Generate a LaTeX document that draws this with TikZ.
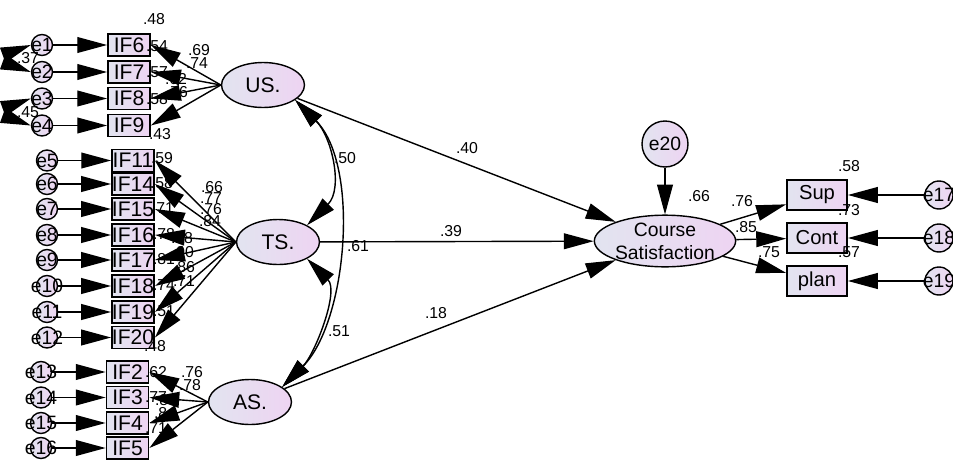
\documentclass[tikz,border=0pt]{standalone}
\usepackage{fontspec}
\setmainfont{Liberation Sans}
\usetikzlibrary{arrows.meta,shapes.geometric}

\definecolor{lavL}{RGB}{226,228,240}
\definecolor{lavR}{RGB}{238,212,242}

\begin{document}
\begin{tikzpicture}[x=0.02cm,y=-0.02cm,
  obs/.style={draw,line width=1pt,rectangle,left color=lavL,right color=lavR,
    minimum width=0.84cm,minimum height=0.44cm,inner sep=0pt,font=\fontsize{12}{12}\selectfont},
  err/.style={draw,line width=0.8pt,circle,left color=lavL,right color=lavR,
    minimum size=0.42cm,inner sep=0pt,font=\fontsize{11}{12}\selectfont},
  lat/.style={draw,line width=0.8pt,ellipse,left color=lavL,right color=lavR,
    minimum width=1.66cm,minimum height=0.9cm,inner sep=0pt,font=\fontsize{12}{13}\selectfont},
  coef/.style={font=\fontsize{9}{10}\selectfont,inner sep=0pt},
  regr/.style={line width=0.8pt,-{Triangle[length=17pt,width=9pt]}},
  cov/.style={line width=0.8pt,{Triangle[length=17pt,width=9pt]}-{Triangle[length=17pt,width=9pt]}}]
\useasboundingbox (0,0) rectangle (953,460);

% indicators and their errors
\foreach \i/\v/\y in {1/6/45,2/7/72,3/8/98.5,4/9/125.5} {
  \node[err] (e\i) at (42,\y) {\makebox[0pt]{e\i}};
  \node[obs] (IF\v) at (129,\y) {IF\v};
}
\foreach \i/\v/\y in {5/11/160.5,6/14/184,7/15/209,8/16/235,9/17/260,10/18/286,11/19/312,12/20/337.5} {
  \node[err] (e\i) at (47,\y) {\makebox[0pt]{e\i}};
  \node[obs] (IF\v) at (133,\y) {IF\v};
}
\foreach \i/\v/\y in {13/2/372,14/3/397.5,15/4/423,16/5/448} {
  \node[err] (e\i) at (41,\y) {\makebox[0pt]{e\i}};
  \node[obs] (IF\v) at (127.5,\y) {IF\v};
}

% latent variables
\node[lat] (US) at (263,85) {US.};
\node[lat] (TS) at (278,242) {TS.};
\node[lat] (AS) at (250,402) {AS.};
\node[lat,minimum width=2.4cm,minimum height=0.96cm,align=center,
  font=\fontsize{11}{13}\selectfont] (CS) at (665,241) {Course\\Satisfaction};
\node[err,minimum size=0.92cm] (e20) at (665,144) {e20};

% outcome indicators
\foreach \i/\o/\y in {17/Sup/195,18/Cont/238,19/plan/281} {
  \node[obs,minimum width=1.2cm,minimum height=0.6cm,font=\fontsize{11.5}{12}\selectfont] (\o) at (817,\y) {\o};
  \node[err,minimum size=0.56cm] (e\i) at (939,\y) {\makebox[0pt]{e\i}};
}

% estimates
\foreach \n/\p/\t in {u1/{154,19}/.48,u2/{157,46}/.54,u3/{157,72}/.57,u4/{157,99}/.58,u5/{160,134}/.43,
    ul1/{199,50}/.69,ul2/{197,63}/.74,ul3/{176,79}/.62,ul4/{177,92}/.76,
    t1/{162,158}/.59,t2/{162,183}/.58,t3/{163,208}/.71,t4/{164,234}/.78,
    t5/{164,259}/.81,t6/{164,285}/.74,t7/{164,311}/.51,t8/{155,346}/.48,
    tl1/{212,187}/.66,tl2/{211,198}/.77,tl3/{211,209}/.76,tl4/{210,221}/.84,
    tl5/{182,238}/.88,tl6/{183,252}/.90,tl7/{184,267}/.86,tl8/{184,281}/.71,
    a1/{156,372}/.62,a2/{156,397}/.77,a3/{156,428}/.71,
    al1/{192,372}/.76,al2/{190,385}/.78,al3/{166,400}/.88,al4/{165,413}/.84,
    c1/{849,166}/.58,c2/{849,210}/.73,c3/{849,252}/.57,
    cl1/{742,201}/.76,cl2/{746,227}/.85,cl3/{769,252}/.75,r2/{699,196}/.66,
    b1/{467,148}/.40,b2/{451,231}/.39,b3/{436,313}/.18,
    k1/{345,158}/.50,k2/{339,331}/.51,k3/{358,246}/.61,
    k4/{28,58}/.37,k5/{28,112}/.45}
  \node[coef] (\n) at (\p) {\t};

% paths
\foreach \i/\v in {1/6,2/7,3/8,4/9,5/11,6/14,7/15,8/16,9/17,10/18,11/19,12/20,13/2,14/3,15/4,16/5}
  \draw[regr] (e\i) -- (IF\v);
\foreach \v in {6,7,8,9} \draw[regr] (US.west) -- (IF\v.east);
\foreach \v in {11,14,15,16,17,18,19,20} \draw[regr] (TS.west) -- (IF\v.east);
\foreach \v in {2,3,4,5} \draw[regr] (AS.west) -- (IF\v.east);
\foreach \l in {US,TS,AS} \draw[regr] (\l) -- (CS);
\draw[regr] (e20) -- (CS);
\foreach \i/\o in {17/Sup,18/Cont,19/plan} {
  \draw[regr] (CS) -- (\o);
  \draw[regr] (e\i) -- (\o);
}

% covariances
\draw[cov] (US.-25) to[out=-45,in=45,looseness=1.05] (TS.30);
\draw[cov] (TS.-30) to[out=-45,in=45,looseness=0.9] (AS.25);
\draw[cov] (US.-25) to[out=-45,in=45,looseness=0.82] (AS.25);
\draw[cov] (e1.west) to[out=200,in=160,looseness=1.8] (e2.west);
\draw[cov] (e3.west) to[out=200,in=160,looseness=1.8] (e4.west);
\end{tikzpicture}
\end{document}
